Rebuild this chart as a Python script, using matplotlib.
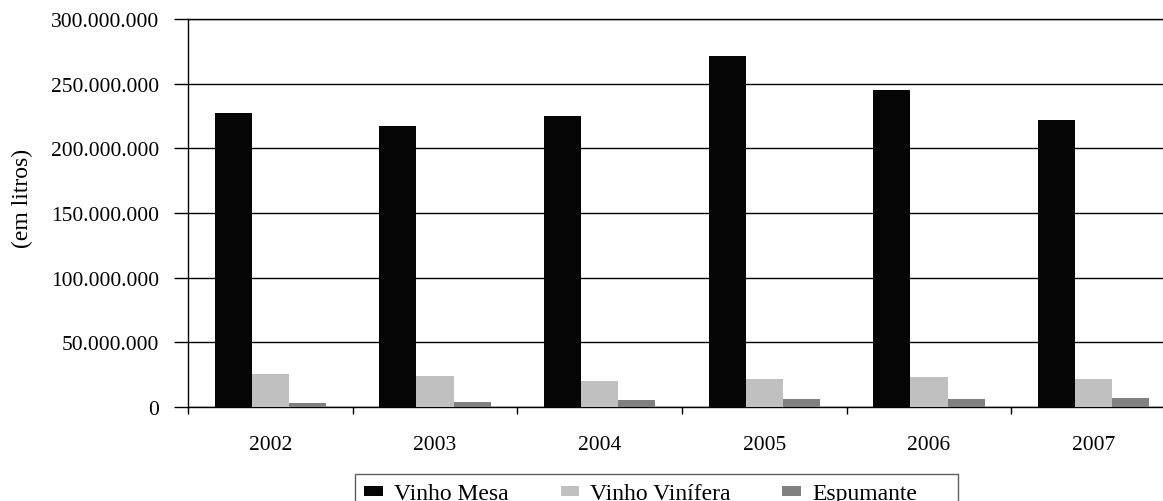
import numpy as np
import matplotlib
matplotlib.use('Agg')
import matplotlib.pyplot as plt
from matplotlib.patches import Rectangle
from matplotlib.ticker import FuncFormatter, MultipleLocator

# data (litros)
anos = ['2002', '2003', '2004', '2005', '2006', '2007']
vinho_mesa = [227_000_000, 217_500_000, 225_300_000, 271_300_000, 245_400_000, 222_000_000]
vinho_vinifera = [25_600_000, 23_800_000, 20_100_000, 21_600_000, 22_900_000, 21_600_000]
espumante = [3_400_000, 4_200_000, 5_200_000, 6_000_000, 6_000_000, 7_300_000]

series = [('Vinho Mesa', vinho_mesa, '#050505'),
          ('Vinho Vinífera', vinho_vinifera, '#c0c0c0'),
          ('Espumante', espumante, '#808080')]

plt.rcParams['font.family'] = ['Liberation Serif', 'DejaVu Serif']

W, H = 1163, 502
fig = plt.figure(figsize=(W / 100, H / 100), dpi=100)
# axes run a little past the right edge of the picture, as in the original
left, right, top, bottom = 188, 1176, 20, 408
ax = fig.add_axes([left / W, 1 - bottom / H, (right - left) / W, (bottom - top) / H])

x = np.arange(len(anos))
bw = 0.225
for k, (nome, vals, cor) in enumerate(series):
    ax.bar(x + (k - 1) * bw, vals, width=bw, color=cor, label=nome, zorder=3)

ax.set_xlim(-0.5, len(anos) - 0.5)
ax.set_ylim(0, 300_000_000)
ax.yaxis.set_major_locator(MultipleLocator(50_000_000))
ax.yaxis.set_major_formatter(FuncFormatter(lambda v, p: f'{int(v):,}'.replace(',', '.')))
ax.grid(axis='y', color='black', lw=1, zorder=0)

ax.set_xticks(x)
ax.set_xticklabels(anos)
ax.set_xticks(np.arange(len(anos) + 1) - 0.5, minor=True)
ax.tick_params(axis='x', which='major', length=0, pad=20, labelsize=15.5)
ax.tick_params(axis='x', which='minor', length=5, width=1, direction='out')
ax.tick_params(axis='y', length=10, width=1, direction='out', pad=11, labelsize=15.5)

ax.spines['right'].set_visible(False)
for s in ('left', 'bottom', 'top'):
    ax.spines[s].set_linewidth(1)
    ax.spines[s].set_color('black')

fig.text(22 / W, 1 - 198 / H, '(em litros)', rotation=90, ha='center', va='center',
         fontsize=17)

# legend box is wider than its entries in the original, so draw the frame by hand
fig.patches.append(Rectangle((355 / W, -0.05), (958 - 355) / W, 1 - 475 / H + 0.05,
                             transform=fig.transFigure, fill=False,
                             edgecolor='#606060', lw=1))
fig.legend(loc='upper left', bbox_to_anchor=(355 / W, 1 - 475 / H), ncol=3,
           fontsize=17, frameon=False, borderaxespad=0,
           borderpad=0.4, handlelength=0.8, handleheight=0.3,
           handletextpad=0.45, columnspacing=2.2)

fig.savefig('out.png', dpi=100)
